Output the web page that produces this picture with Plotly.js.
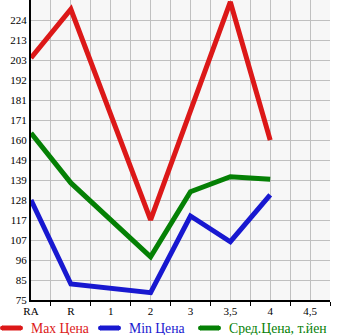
<!DOCTYPE html>
<html>
<head>
<meta charset="utf-8">
<script src="https://cdn.plot.ly/plotly-3.0.1.min.js"></script>
<style>
html,body{margin:0;padding:0;background:#fff;}
#chart{width:345px;height:335px;}
</style>
</head>
<body>
<div id="chart"></div>
<script>
// Categories (grades)
const categories = ['RA', 'R', '1', '2', '3', '3,5', '4', '4,5'];
// Series values (т.йен); null = no data at that grade
const maxPrice = [203.8, 229.7, null, 117.6, null, 233.6, 160.1, null];
const minPrice = [128.2, 83.5, null, 78.9, 119.7, 106.0, 130.9, null];
const avgPrice = [163.9, 137.3, null, 98.0, 132.6, 140.6, 139.2, null];
// Y tick labels
const yTickLabels = ['75', '85', '96', '107', '117', '128', '139', '149', '160', '171', '181', '192', '203', '213', '224'];
const seriesNames = ['Max Цена', 'Min Цена', 'Сред.Цена, т.йен'];
const seriesColors = ['#dc1818', '#1818d0', '#058005'];

const W = 345, H = 335;
const M = {l: 31, r: 15, t: 0, b: 35};
const plotW = W - M.l - M.r, plotH = H - M.t - M.b;

const yMin = 75, yStep = (224 - 75) / 14;
const yTickVals = yTickLabels.map((_, i) => yMin + i * yStep);
const xIdx = categories.map((_, i) => i);

const seriesData = [maxPrice, minPrice, avgPrice];
const traces = seriesData.map((vals, k) => ({
  type: 'scatter',
  mode: 'lines',
  x: xIdx,
  y: vals,
  connectgaps: true,
  name: seriesNames[k],
  line: {color: seriesColors[k], width: 5},
  hoverinfo: 'skip',
  showlegend: false
}));

// custom legend row (pixel positions converted to paper coords)
const legendStarts = [0, 98, 198];
const legendY = 328;
const px2x = px => (px - M.l) / plotW;
const py2y = py => (M.t + plotH - py) / plotH;
const shapes = [], annotations = [];
seriesNames.forEach((nm, k) => {
  const x0 = legendStarts[k];
  shapes.push({
    type: 'line', xref: 'paper', yref: 'paper',
    x0: px2x(x0 + 2), x1: px2x(x0 + 21), y0: py2y(legendY), y1: py2y(legendY),
    line: {color: seriesColors[k], width: 5}
  });
  shapes.push({
    type: 'circle', xref: 'paper', yref: 'paper',
    x0: px2x(x0), x1: px2x(x0 + 4.5), y0: py2y(legendY + 2.3), y1: py2y(legendY - 2.2),
    fillcolor: seriesColors[k], line: {width: 0}
  });
  shapes.push({
    type: 'circle', xref: 'paper', yref: 'paper',
    x0: px2x(x0 + 18.5), x1: px2x(x0 + 23), y0: py2y(legendY + 2.3), y1: py2y(legendY - 2.2),
    fillcolor: seriesColors[k], line: {width: 0}
  });
  annotations.push({
    text: nm, xref: 'paper', yref: 'paper',
    x: px2x(x0 + 29), y: py2y(legendY), xanchor: 'left', yanchor: 'middle',
    showarrow: false, font: {size: 13.7, color: seriesColors[k], family: 'Liberation Serif, serif'}
  });
});

const layout = {
  width: W,
  height: H,
  margin: {l: M.l, r: M.r, t: M.t, b: M.b, pad: 0},
  paper_bgcolor: '#ffffff',
  plot_bgcolor: '#f7f7f7',
  font: {family: 'Liberation Serif, DejaVu Serif, serif', size: 11, color: '#000'},
  showlegend: false,
  shapes: shapes,
  annotations: annotations,
  xaxis: {
    automargin: false,
    range: [0, 7.5],
    tickmode: 'array',
    tickvals: xIdx,
    ticktext: categories,
    ticks: '',
    showgrid: true,
    gridcolor: '#c0c0c0',
    gridwidth: 1,
    zeroline: false,
    showline: true,
    linecolor: '#000',
    linewidth: 2,
    tickfont: {size: 11},
    minor: {
      tick0: 0.5, dtick: 1,
      ticks: 'outside', ticklen: 4, tickwidth: 1, tickcolor: '#000',
      showgrid: true, gridcolor: '#c0c0c0', gridwidth: 1
    },
    fixedrange: true
  },
  yaxis: {
    automargin: false,
    range: [yMin, yMin + 15 * yStep],
    tickmode: 'array',
    tickvals: yTickVals,
    ticktext: yTickLabels,
    ticks: '',
    showgrid: true,
    gridcolor: '#c0c0c0',
    gridwidth: 1,
    zeroline: false,
    showline: true,
    linecolor: '#000',
    linewidth: 2,
    tickfont: {size: 11},
    fixedrange: true
  }
};

Plotly.newPlot('chart', traces, layout, {displayModeBar: false, staticPlot: true});
</script>
</body>
</html>
